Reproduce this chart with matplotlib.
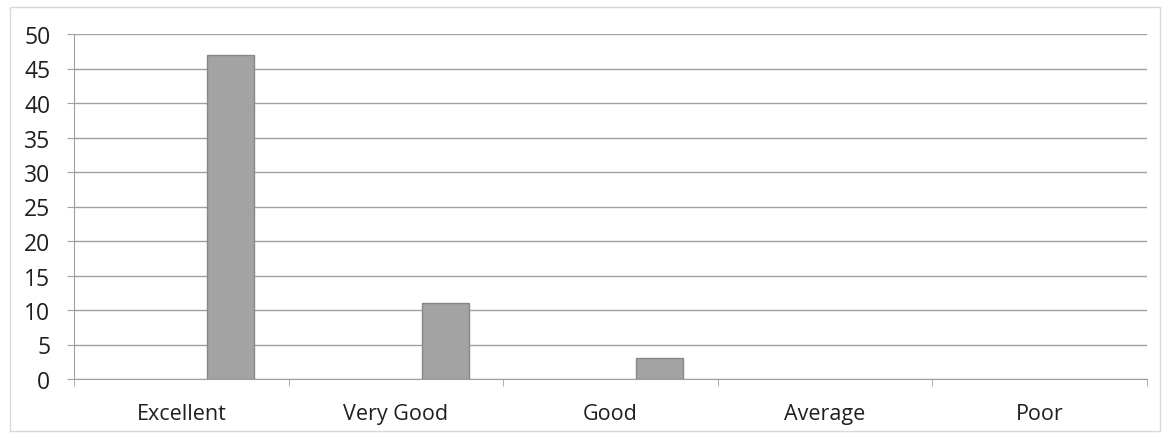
import matplotlib
matplotlib.use("Agg")
import matplotlib.pyplot as plt
from matplotlib.patches import Rectangle
import numpy as np

categories = ["Excellent", "Very Good", "Good", "Average", "Poor"]
values = [47, 11, 3, 0, 0]
yticks = list(range(0, 55, 5))

plt.rcParams['font.family'] = ['Open Sans', 'DejaVu Sans']

fig = plt.figure(figsize=(11.69, 4.39), dpi=100)
ax = fig.add_axes([74/1169, 1-380/439, (1147-74)/1169, (380-35)/439])

x = np.arange(len(categories))
lw = [1.0 if v > 0 else 0 for v in values]
ax.bar(x + 0.23, values, width=0.22, color="#a3a3a3", edgecolor="#888888", linewidth=lw, zorder=3)

ax.set_xlim(-0.5, len(categories) - 0.5)
ax.set_ylim(0, 50)
ax.set_yticks(yticks)
ax.set_yticklabels([str(v) for v in yticks], fontsize=16.5, color="#1f1f1f")
ax.yaxis.grid(True, color="#a0a0a0", linewidth=1.0, zorder=0)
ax.set_axisbelow(True)

ax.set_xticks(x)
ax.set_xticklabels(categories, fontsize=15.5, color="#1f1f1f")
ax.tick_params(axis='x', length=0, pad=17)
ax.set_xticks(np.arange(-0.5, len(categories) + 0.5, 1), minor=True)
ax.tick_params(axis='x', which='minor', length=5, color="#a0a0a0")
ax.tick_params(axis='y', length=5, color="#a0a0a0", pad=12)

for s in ["top", "right"]:
    ax.spines[s].set_visible(False)
ax.spines["left"].set_color("#a0a0a0")
ax.spines["bottom"].set_color("#a0a0a0")

fig.patches.append(Rectangle((10/1169, 1-432/439), (1160-10)/1169, (432-8)/439,
                             transform=fig.transFigure, fill=False,
                             edgecolor="#d9d9d9", linewidth=1.0))

fig.savefig("out.png", dpi=100)
